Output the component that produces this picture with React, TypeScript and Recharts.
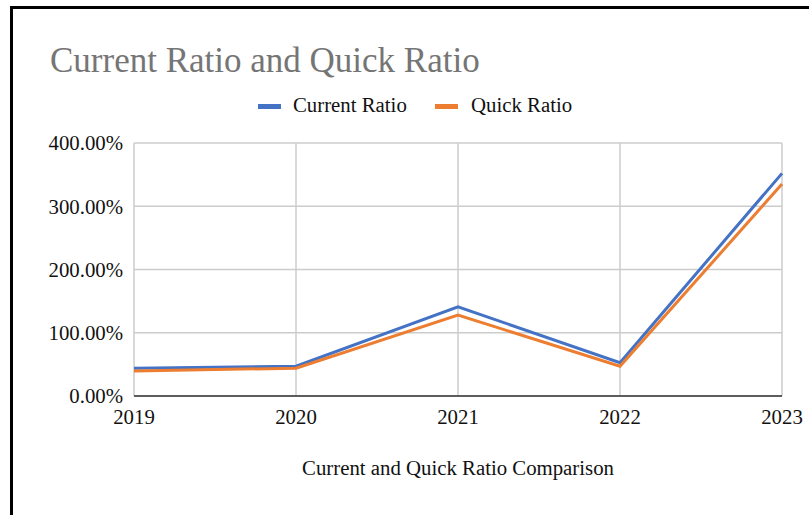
import React from 'react';
import { LineChart, Line, XAxis, YAxis, CartesianGrid } from 'recharts';

const years = ['2019', '2020', '2021', '2022', '2023'];
const currentRatio = [43.7, 47, 141, 52.6, 352];
const quickRatio = [39.5, 44, 128, 47, 335];
const yTicks = [0, 100, 200, 300, 400];

const BLUE = '#4472c4';
const ORANGE = '#ed7d31';
const FONT = '"Liberation Serif", "Times New Roman", serif';

const rows = years.map((y, i) => ({
  year: y,
  current: currentRatio[i],
  quick: quickRatio[i],
}));

export default function App() {
  return (
    <div
      style={{
        position: 'fixed',
        left: 0,
        top: 0,
        width: 809,
        height: 515,
        background: '#fff',
        overflow: 'hidden',
        fontFamily: FONT,
      }}
    >
      {/* screenshot frame edges */}
      <div style={{ position: 'absolute', left: 10, top: 6, width: 3, height: 509, background: '#000' }} />
      <div style={{ position: 'absolute', left: 10, top: 6, width: 799, height: 3, background: '#000' }} />

      <LineChart
        width={809}
        height={515}
        data={rows}
        margin={{ top: 143, right: 27, left: 0, bottom: 0 }}
      >
        <CartesianGrid stroke="#cccccc" strokeWidth={1.5} />
        <XAxis
          dataKey="year"
          height={119}
          tickLine={false}
          tickSize={0}
          tickMargin={13}
          axisLine={{ stroke: '#333333', strokeWidth: 1.5 }}
          tick={{ fill: '#111', fontSize: 20.8, fontFamily: FONT }}
          label={{
            value: 'Current and Quick Ratio Comparison',
            position: 'insideBottom',
            offset: 40,
            fill: '#111',
            fontSize: 20.8,
            fontFamily: FONT,
          }}
        />
        <YAxis
          width={134}
          domain={[0, 400]}
          ticks={yTicks}
          tickFormatter={(v: number) => `${v.toFixed(2)}%`}
          axisLine={false}
          tickLine={false}
          tickSize={0}
          tickMargin={11}
          tick={{ fill: '#111', fontSize: 20.8, fontFamily: FONT }}
        />
        <Line
          dataKey="current"
          name="Current Ratio"
          stroke={BLUE}
          strokeWidth={3}
          dot={false}
          isAnimationActive={false}
        />
        <Line
          dataKey="quick"
          name="Quick Ratio"
          stroke={ORANGE}
          strokeWidth={3}
          dot={false}
          isAnimationActive={false}
        />
      </LineChart>

      <svg
        width={809}
        height={130}
        style={{ position: 'absolute', left: 0, top: 0, pointerEvents: 'none' }}
      >
        <text x={50} y={72} fill="#757575" fontSize={35} fontFamily={FONT}>
          Current Ratio and Quick Ratio
        </text>
        <rect x={258} y={104} width={23} height={5} fill={BLUE} />
        <text x={293} y={112} fill="#111" fontSize={20.8} fontFamily={FONT}>
          Current Ratio
        </text>
        <rect x={435} y={104} width={23} height={5} fill={ORANGE} />
        <text x={471} y={112} fill="#111" fontSize={20.8} fontFamily={FONT}>
          Quick Ratio
        </text>
      </svg>
    </div>
  );
}
